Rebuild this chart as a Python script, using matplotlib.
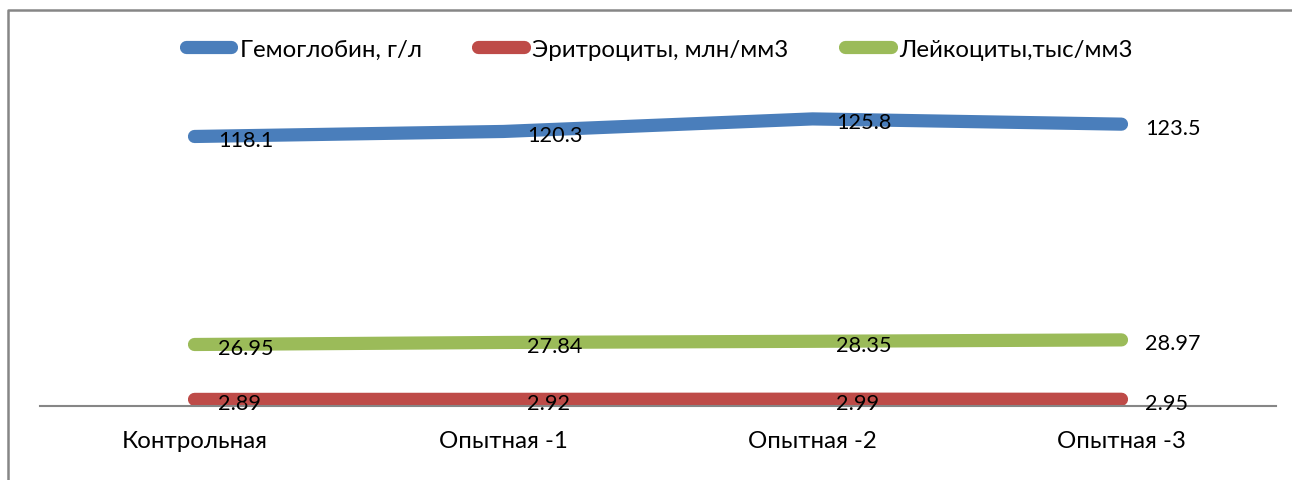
import matplotlib
matplotlib.use("Agg")
import matplotlib.pyplot as plt
from matplotlib.lines import Line2D

plt.rcParams['font.family'] = ['Lato', 'DejaVu Sans']

groups = ["Контрольная", "Опытная -1", "Опытная -2", "Опытная -3"]
hemoglobin = [118.1, 120.3, 125.8, 123.5]
erythrocytes = [2.89, 2.92, 2.99, 2.95]
leukocytes = [26.95, 27.84, 28.35, 28.97]

series_names = ["Гемоглобин, г/л", "Эритроциты, млн/мм3", "Лейкоциты,тыс/мм3"]
colors = ["#4A7EBB", "#BE4B48", "#9BBB59"]

W, H = 1292, 481
fig = plt.figure(figsize=(W / 100, H / 100), dpi=100)
ax = fig.add_axes([40 / W, (H - 407) / H, (1276 - 40) / W, (407 - 87.5) / H])

x = list(range(len(groups)))
fs_text = 17.3
fs_val = 15.6
for vals, name, col in zip([hemoglobin, erythrocytes, leukocytes], series_names, colors):
    ax.plot(x, vals, color=col, lw=9.5, solid_capstyle='round', label=name, zorder=2)
    for xi, v in zip(x, vals):
        ax.annotate(f"{v:g}", (xi, v), xytext=(17, -2.5), textcoords='offset points',
                    ha='left', va='center', fontsize=fs_val, color='black', zorder=3)

ax.set_xlim(-0.5, len(groups) - 0.5)
ax.set_ylim(0, 140)
ax.set_xticks(x)
ax.set_xticklabels(groups, fontsize=fs_text)
ax.tick_params(axis='x', length=0, pad=17)
ax.set_yticks([])
for s in ['top', 'right', 'left']:
    ax.spines[s].set_visible(False)
ax.spines['bottom'].set_color('#868686')
ax.spines['bottom'].set_linewidth(1.5)
ax.patch.set_alpha(0)

# chart area frame (top and left edges)
fig.add_artist(Line2D([8 / W, 8 / W, 1], [0, 1 - 11 / H, 1 - 11 / H],
                      transform=fig.transFigure, color='#868686', lw=1.8))

handles = [Line2D([0], [0], color=c, lw=9.5, solid_capstyle='round') for c in colors]
fig.legend(handles, series_names, loc='center', bbox_to_anchor=(659 / W, 1 - 50 / H),
           ncol=3, frameon=False, fontsize=fs_text, handlelength=1.9, handletextpad=0.35,
           columnspacing=2.35)

fig.savefig("out.png", dpi=100)
